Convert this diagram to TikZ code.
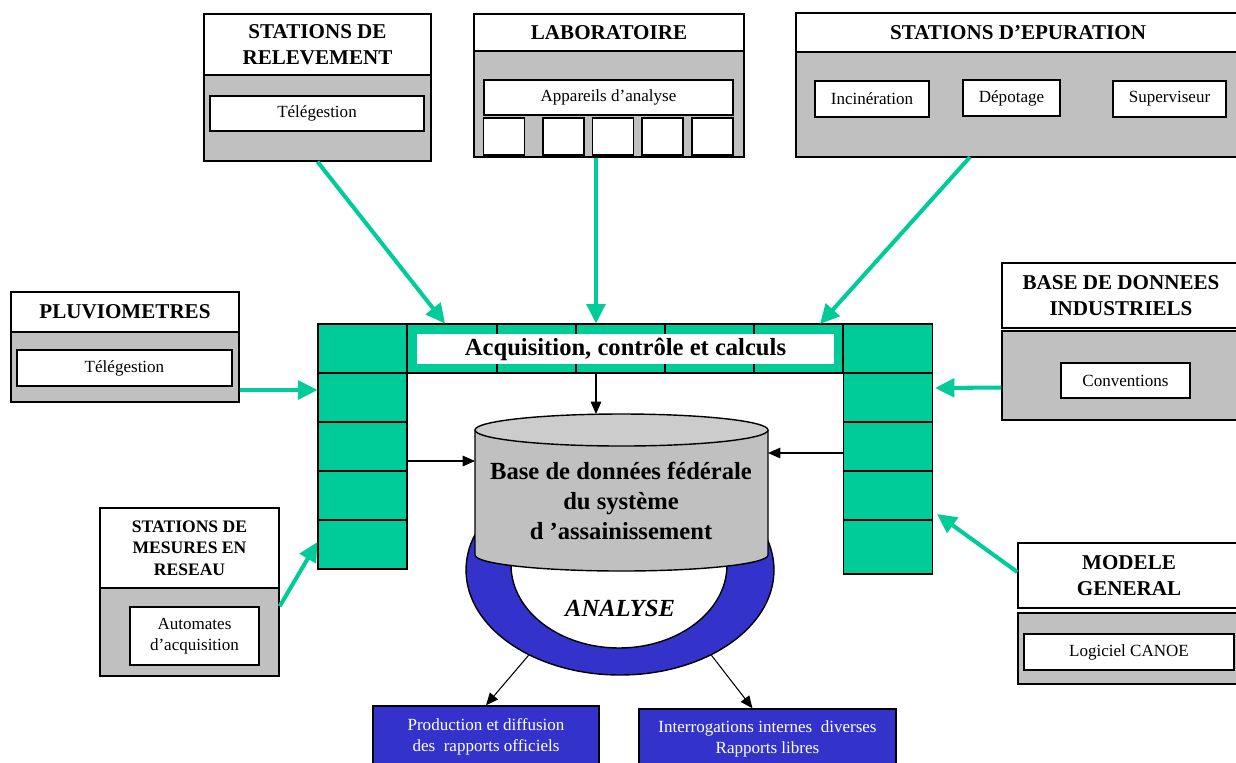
\documentclass[tikz,border=0pt]{standalone}
\usepackage{fontspec}
\setmainfont{Liberation Serif}
\usetikzlibrary{arrows.meta,shapes.geometric,calc}
\definecolor{vert}{HTML}{00CC99}
\definecolor{gris}{HTML}{C0C0C0}
\definecolor{grisclair}{HTML}{CCCCCC}
\definecolor{bleu}{HTML}{3333CC}
\newcommand{\titre}{\fontsize{12}{15}\selectfont\bfseries}
\newcommand{\texte}{\fontsize{9.7}{12}\selectfont}
\newcommand{\gros}{\fontsize{14}{17.3}\selectfont\bfseries}

\begin{document}
\begin{tikzpicture}[x=0.02cm,y=-0.02cm,
    titlebox/.style={draw,fill=white,line width=0.8pt,align=center,inner sep=0pt,font=\titre},
    graybox/.style={draw,fill=gris,line width=0.8pt,inner sep=0pt},
    inbox/.style={draw,fill=white,line width=0.8pt,align=center,inner sep=0pt,font=\texte},
    outbox/.style={draw,fill=bleu,line width=0.8pt,align=center,inner sep=0pt,text=white,font=\texte},
    cell/.style={draw,fill=vert,line width=0.6pt,minimum width=1.78cm,minimum height=0.98cm,inner sep=0pt},
    feed/.style={draw=vert,line width=2.3pt,-{Triangle[length=11pt,width=10.5pt]}},
    link/.style={draw,line width=0.6pt,-{Triangle[length=7pt,width=6pt]}}]
  \useasboundingbox (0,0) rectangle (1236,762);

  % sources
  \node[titlebox,minimum width=4.54cm,minimum height=1.22cm] (relT) at (317.5,44.5) {STATIONS DE\\RELEVEMENT};
  \node[graybox,minimum width=4.54cm,minimum height=1.72cm] (relG) at (317.5,118) {};
  \node[inbox,minimum width=4.28cm,minimum height=0.7cm] (relI) at (317,113.5) {Télégestion};

  \node[titlebox,minimum width=5.4cm,minimum height=0.74cm] (labT) at (609,32.5) {LABORATOIRE};
  \node[graybox,minimum width=5.4cm,minimum height=2.12cm] (labG) at (609,104) {};
  \node[inbox,minimum width=4.98cm,minimum height=0.7cm] (labI) at (608.5,97.5) {Appareils d'analyse};
  \foreach \x [count=\i] in {504,563.5,613,662.5,712.5}
    \node[inbox,minimum width=0.82cm,minimum height=0.74cm] (app\i) at (\x,136.5) {};

  \node[titlebox,minimum width=8.88cm,minimum height=0.78cm] (epuT) at (1018,32.5) {STATIONS D'EPURATION};
  \node[graybox,minimum width=8.88cm,minimum height=2.1cm] (epuG) at (1018,104.5) {};
  \node[inbox,minimum width=2.28cm,minimum height=0.72cm] (inci) at (872,99) {Incinération};
  \node[inbox,minimum width=1.94cm,minimum height=0.72cm] (depo) at (1011.5,98) {Dépotage};
  \node[inbox,minimum width=2.26cm,minimum height=0.72cm] (super) at (1169.5,99) {Superviseur};

  \node[titlebox,minimum width=4.56cm,minimum height=0.8cm] (pluT) at (125,312) {PLUVIOMETRES};
  \node[graybox,minimum width=4.56cm,minimum height=1.4cm] (pluG) at (125,367) {};
  \node[inbox,minimum width=4.3cm,minimum height=0.72cm] (pluI) at (124.5,368) {Télégestion};

  \node[titlebox,minimum width=3.58cm,minimum height=1.6cm,font=\fontsize{10}{12.2}\selectfont\bfseries] (mesT) at (189.5,548) {STATIONS DE\\MESURES EN\\RESEAU};
  \node[graybox,minimum width=3.58cm,minimum height=1.76cm] (mesG) at (189.5,632) {};
  \node[inbox,minimum width=2.58cm,minimum height=1.16cm] (mesI) at (194.5,636) {Automates\\d’acquisition};

  \node[titlebox,minimum width=4.76cm,minimum height=1.3cm] (bdiT) at (1121,295.5) {BASE DE DONNEES\\INDUSTRIELS};
  \node[graybox,minimum width=4.76cm,minimum height=1.78cm] (bdiG) at (1121,375.5) {};
  \node[inbox,minimum width=2.58cm,minimum height=0.7cm] (bdiI) at (1125.5,380.5) {Conventions};

  \node[titlebox,minimum width=4.44cm,minimum height=1.3cm] (modT) at (1129,575.5) {MODELE\\GENERAL};
  \node[graybox,minimum width=4.44cm,minimum height=1.42cm] (modG) at (1129,648.5) {};
  \node[inbox,minimum width=4.2cm,minimum height=0.72cm] (modI) at (1129,652) {Logiciel CANOE};

  % cadre vert
  \foreach \y [count=\i] in {348.5,397.5,446.5,495.5,544.5}
    \node[cell] (L\i) at (362.5,\y) {};
  \foreach \y/\h [count=\i] in {348.5/0.98,397.5/0.98,446.5/0.98,495.5/0.98,547/1.08}
    \node[cell,minimum height=\h cm] (R\i) at (888,\y) {};
  \foreach \x/\w [count=\i] in {452/1.8,536.5/1.58,620.5/1.78,709.5/1.78,798.5/1.78}
    \node[cell,minimum width=\w cm] (T\i) at (\x,348.5) {};
  \node[fill=white,minimum width=8.34cm,minimum height=0.6cm,inner sep=0pt,font=\gros] (acq) at (625.5,349) {Acquisition, contrôle et calculs};

  % anneau et base
  \node[ellipse,draw,fill=bleu,line width=0.8pt,minimum width=6.16cm,minimum height=4.2cm,inner sep=0pt] (ring) at (620,570) {};
  \node[ellipse,draw,fill=white,line width=0.8pt,minimum width=4.32cm,minimum height=3.32cm,inner sep=0pt] (hole) at (619,565) {};
  \node[font=\fontsize{14}{16}\selectfont\bfseries\itshape] (ana) at (620,608) {ANALYSE};

  \fill[gris] (475,430) rectangle (768,555);
  \fill[gris] (621.5,555) ellipse[x radius=146.5,y radius=16];
  \draw[line width=0.8pt] (475,430) -- (475,555) arc[start angle=180,end angle=0,x radius=146.5,y radius=16] -- (768,430);
  \draw[line width=0.8pt,fill=grisclair] (621.5,430) ellipse[x radius=146.5,y radius=16];
  \node[font=\gros,align=center] (db) at (621,501) {Base de données fédérale\\du système\\d ’assainissement};

  \node[outbox,minimum width=4.52cm,minimum height=1.24cm] (prod) at (486,737) {Production et diffusion\\des\ \ rapports officiels};
  \node[outbox,minimum width=5.14cm,minimum height=1.18cm] (inter) at (767.5,738.5) {Interrogations internes\ \ diverses\\Rapports libres};

  % liaisons
  \coordinate (dbtop) at (596,414);
  \coordinate (dbleft) at (475,461);
  \coordinate (dbright) at (768,453);
  \draw[link] (T3.south -| dbtop) -- (dbtop);
  \draw[link] (L3.east |- dbleft) -- (dbleft);
  \draw[link] (R3.west |- dbright) -- (dbright);
  \draw[link] (ring.-137) -- (prod.north);
  \draw[link] (ring.-43) -- ($(inter.north)+(-15,0)$);

  \coordinate (epuout) at (970,157);
  \coordinate (epuin) at (820,324);
  \draw[feed] (relG.south) -- ($(T1.north)+(-7,0)$);
  \draw[feed] (labG.south -| dbtop) -- (T3.north -| dbtop);
  \draw[feed] (epuout) -- (epuin);
  \draw[feed] ($(pluG.east)+(0,23)$) -- ($(L2.west)+(0,-7.5)$);
  \draw[feed] ($(mesG.north east)+(0,19)$) -- ($(L5.west)+(0,-2.5)$);
  \draw[feed] ($(bdiG.west)+(0,12)$) -- ($(R2.east)+(2,-9.5)$);
  \draw[feed] ($(modT.west)+(0,-3.5)$) -- ($(R4.east)+(4,18.5)$);
\end{tikzpicture}
\end{document}
